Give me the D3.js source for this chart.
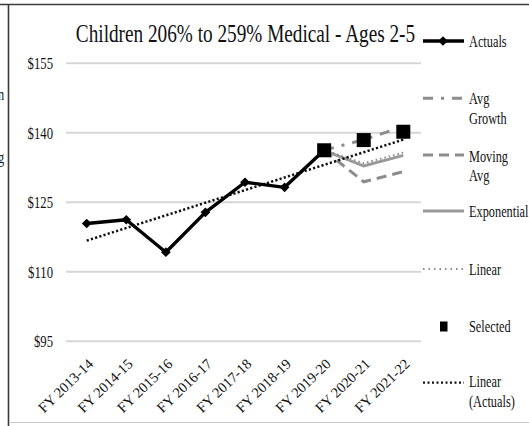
<!DOCTYPE html>
<html>
<head>
<meta charset="utf-8">
<script src="https://cdn.jsdelivr.net/npm/d3@7"></script>
<style>
  html, body { margin: 0; padding: 0; background: #fff; }
  svg { display: block; }
  text { font-family: "Liberation Serif", "Times New Roman", serif; fill: #111; }
</style>
</head>
<body>
<svg id="chart" width="529" height="426"></svg>
<script>
// Fiscal years shown on the x axis
const categories = ["FY 2013-14", "FY 2014-15", "FY 2015-16", "FY 2016-17", "FY 2017-18",
                    "FY 2018-19", "FY 2019-20", "FY 2020-21", "FY 2021-22"];

// Historical monthly rates
const actuals = [120.3, 121.1, 114.1, 122.7, 129.2, 128.1, 136.1];

// Forecast methods, starting from the last actual (FY 2019-20)
const forecastYears = ["FY 2019-20", "FY 2020-21", "FY 2021-22"];
const avgGrowth   = [136.1, 138.4, 141.2];
const movingAvg   = [136.1, 129.3, 131.5];
const exponential = [136.1, 132.7, 135.0];
const linear      = [136.1, 133.3, 135.6];
const selected    = [136.1, 138.3, 140.1];

// Straight-line trend fitted to the actuals, from first to last year
const trendYears = ["FY 2013-14", "FY 2021-22"];
const linearActuals = [116.6, 138.4];

const yTicks = [95, 110, 125, 140, 155];

// Text is drawn narrow and tall (horizontal squeeze)
const SX = 0.77;

const svg = d3.select("#chart");

const x = d3.scalePoint().domain(categories).range([86.7, 403.3]);
const y = d3.scaleLinear().domain([95, 155]).range([340.7, 62.7]);

function label(parent, px, py, str, size, anchor) {
  return parent.append("text")
    .attr("transform", `translate(${px},${py}) scale(${SX},1)`)
    .attr("font-size", size)
    .attr("text-anchor", anchor || "start")
    .text(str);
}

// Frame of the surrounding cell
svg.append("line").attr("x1", 0).attr("x2", 529).attr("y1", 4.5).attr("y2", 4.5)
  .attr("stroke", "#3a3a3a").attr("stroke-width", 1.6);
svg.append("line").attr("x1", 8.5).attr("x2", 8.5).attr("y1", 4).attr("y2", 426)
  .attr("stroke", "#3a3a3a").attr("stroke-width", 1.6);
svg.append("line").attr("x1", 9).attr("x2", 529).attr("y1", 422.5).attr("y2", 422.5)
  .attr("stroke", "#c8c8c8").attr("stroke-width", 1);
// Clipped text from the neighbouring cell
label(svg, -2, 100, "n", 16).attr("fill", "#666");
label(svg, -2, 163, "g", 16).attr("fill", "#666");

// Title
label(svg, 245.5, 41.5, "Children 206% to 259% Medical - Ages 2-5", 25, "middle");

// Y axis: gridlines and dollar labels
const yAxis = d3.axisLeft(y).tickValues(yTicks).tickSize(-355).tickFormat(d => "$" + d);
const gy = svg.append("g").attr("transform", "translate(66,0)").call(yAxis);
gy.select(".domain").remove();
gy.selectAll(".tick line").attr("stroke", "#d6d6d6").attr("stroke-width", 2);
gy.selectAll(".tick text").attr("x", null).attr("dy", null)
  .attr("transform", `translate(-13,5.8) scale(${SX},1)`)
  .attr("font-size", 16.5).attr("font-family", "Liberation Serif, serif").attr("fill", "#111");

// X axis labels, rotated
const xAxis = d3.axisBottom(x).tickSize(0).tickPadding(0);
const gx = svg.append("g").attr("transform", "translate(0,346)").call(xAxis);
gx.select(".domain").remove();
gx.selectAll(".tick text")
  .attr("font-size", 14.5).attr("font-family", "Liberation Serif, serif").attr("fill", "#111")
  .attr("text-anchor", "end").attr("dy", 0).attr("y", 0)
  .attr("transform", "translate(7,19) rotate(-44)");

const line = d3.line().x(d => x(d[0])).y(d => y(d[1]));
const pairs = (keys, vals) => keys.map((k, i) => [k, vals[i]]);

const g = svg.append("g");

// Forecast lines
g.append("path").datum(pairs(forecastYears, movingAvg)).attr("d", line)
  .attr("fill", "none").attr("stroke", "#8c8c8c").attr("stroke-width", 3)
  .attr("stroke-dasharray", "10,6");
g.append("path").datum(pairs(forecastYears, exponential)).attr("d", line)
  .attr("fill", "none").attr("stroke", "#999").attr("stroke-width", 3);
g.append("path").datum(pairs(forecastYears, linear)).attr("d", line)
  .attr("fill", "none").attr("stroke", "#8a8a8a").attr("stroke-width", 2)
  .attr("stroke-dasharray", "1.5,3");
g.append("path").datum(pairs(forecastYears, avgGrowth)).attr("d", line)
  .attr("fill", "none").attr("stroke", "#8c8c8c").attr("stroke-width", 3)
  .attr("stroke-dasharray", "10,8,3,8");

// Linear trend of actuals
g.append("path").datum(pairs(trendYears, linearActuals)).attr("d", line)
  .attr("fill", "none").attr("stroke", "#111").attr("stroke-width", 2.5)
  .attr("stroke-dasharray", "2.2,2.2");

// Actuals line with diamond markers
const actualPts = pairs(categories.slice(0, actuals.length), actuals);
g.append("path").datum(actualPts).attr("d", line)
  .attr("fill", "none").attr("stroke", "#000").attr("stroke-width", 3.4)
  .attr("stroke-linejoin", "round");
g.selectAll(".diamond").data(actualPts).join("path").attr("class", "diamond")
  .attr("d", d3.symbol(d3.symbolDiamond2, 60))
  .attr("transform", d => `translate(${x(d[0])},${y(d[1])})`).attr("fill", "#000");

// Selected values
g.selectAll(".sel").data(pairs(forecastYears, selected)).join("rect").attr("class", "sel")
  .attr("x", d => x(d[0]) - 7).attr("y", d => y(d[1]) - 7)
  .attr("width", 14).attr("height", 14).attr("fill", "#000");

// Legend
const lx0 = 423, lx1 = 464, tx = 469;
const legend = svg.append("g");
function legendText(yy, lines) {
  lines.forEach((s, i) => label(legend, tx, yy + i * 19.5, s, 16));
}
function legendLine(yy, stroke, width, dash) {
  const l = legend.append("line").attr("x1", lx0).attr("x2", lx1).attr("y1", yy).attr("y2", yy)
    .attr("stroke", stroke).attr("stroke-width", width);
  if (dash) l.attr("stroke-dasharray", dash);
}
legendLine(41, "#000", 3.4);
legend.append("path").attr("d", d3.symbol(d3.symbolDiamond2, 60))
  .attr("transform", "translate(443,41)").attr("fill", "#000");
legendText(47, ["Actuals"]);

legendLine(98.3, "#8c8c8c", 3, "10,8,3,8");
legendText(104, ["Avg", "Growth"]);

legendLine(155, "#8c8c8c", 3, "10,6");
legendText(161.5, ["Moving", "Avg"]);

legendLine(211, "#999", 3);
legendText(217, ["Exponential"]);

legendLine(269, "#8a8a8a", 2, "1.5,4");
legendText(275, ["Linear"]);

legend.append("rect").attr("x", 440).attr("y", 321.5).attr("width", 7.5).attr("height", 10).attr("fill", "#000");
legendText(331.5, ["Selected"]);

legendLine(382.7, "#111", 2.2, "2,2.5");
legendText(387, ["Linear", "(Actuals)"]);
</script>
</body>
</html>
